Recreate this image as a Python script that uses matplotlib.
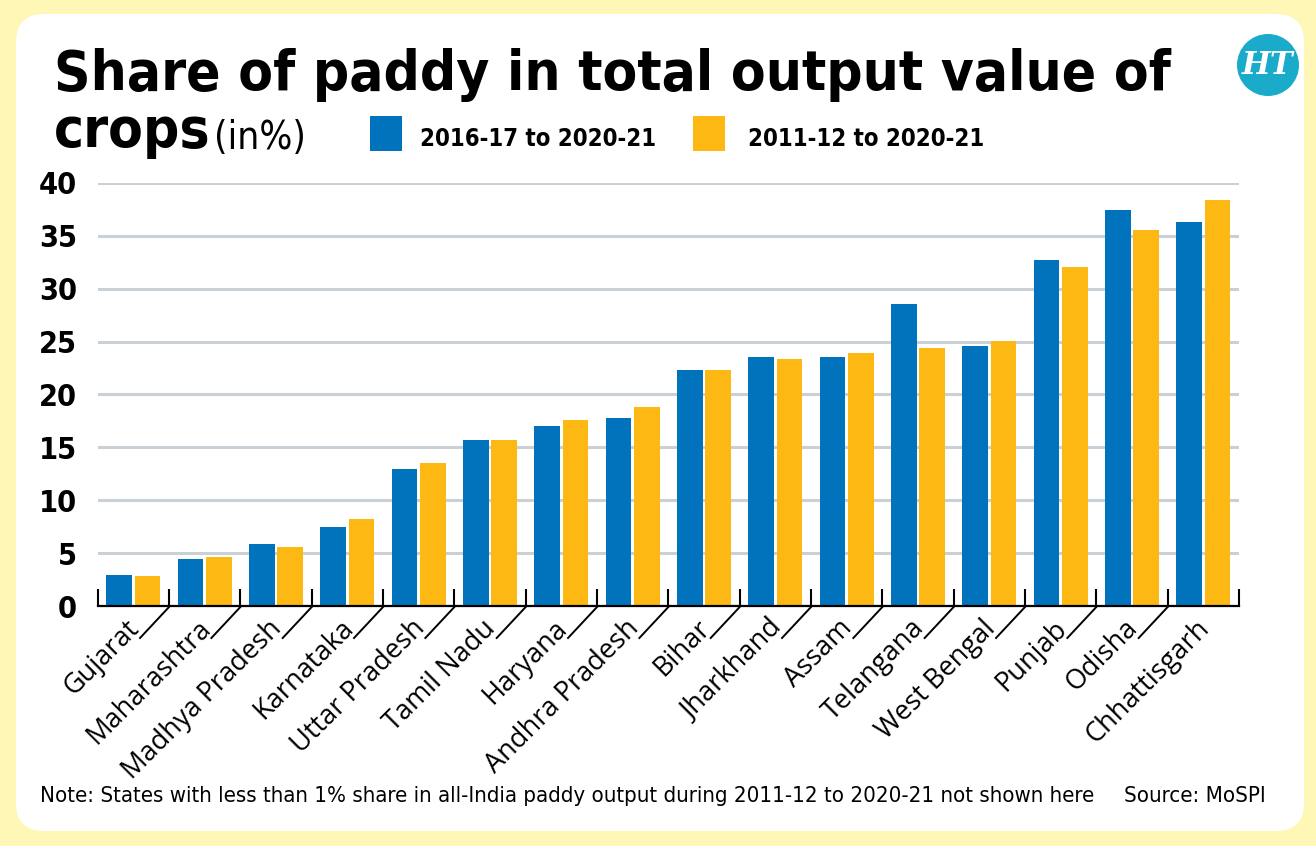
import numpy as np
import matplotlib
matplotlib.use("Agg")
import matplotlib.pyplot as plt
from matplotlib import font_manager
from matplotlib.patches import FancyBboxPatch, Rectangle, Circle
from matplotlib.lines import Line2D
from matplotlib.transforms import IdentityTransform, ScaledTranslation

states = ["Gujarat", "Maharashtra", "Madhya Pradesh", "Karnataka", "Uttar Pradesh",
          "Tamil Nadu", "Haryana", "Andhra Pradesh", "Bihar", "Jharkhand", "Assam",
          "Telangana", "West Bengal", "Punjab", "Odisha", "Chhattisgarh"]
share_2016_21 = [2.9, 4.4, 5.9, 7.5, 13.0, 15.7, 17.0, 17.8, 22.3, 23.5, 23.5,
                 28.6, 24.6, 32.7, 37.4, 36.3]
share_2011_21 = [2.8, 4.6, 5.6, 8.2, 13.5, 15.7, 17.6, 18.8, 22.3, 23.4, 23.9,
                 24.4, 25.1, 32.1, 35.6, 38.4]
yticks = [0, 5, 10, 15, 20, 25, 30, 35, 40]
legend_labels = ["2016-17 to 2020-21", "2011-12 to 2020-21"]

BLUE = "#0073BC"
YELLOW = "#FDB813"
BG = "#FEF7B6"
GRID = "#C9D1D7"

# narrow font: Liberation Sans Narrow or DejaVu Sans Condensed
fonts = font_manager.fontManager.ttflist
if any(f.name == "Liberation Sans Narrow" for f in fonts):
    NARROW = dict(family="Liberation Sans Narrow")
elif any(f.name == "DejaVu Sans" and f.stretch == "condensed" for f in fonts):
    NARROW = dict(family="DejaVu Sans", stretch="condensed")
else:
    NARROW = dict(family="Roboto")
REG = dict(family="Open Sans")

W, H = 1316, 846
fig = plt.figure(figsize=(W / 100, H / 100), dpi=100)
fig.patch.set_facecolor(BG)

# white card (pixel coords, origin bottom-left)
card = FancyBboxPatch((16, H - 831), 1288, 817, boxstyle="round,pad=0,rounding_size=28",
                      transform=IdentityTransform(), facecolor="white", edgecolor="none",
                      zorder=-5)
fig.add_artist(card)

def fx(x):
    return x / W

def fy(y):
    return 1 - y / H

renderer = fig.canvas.get_renderer()

def fit(t, width):
    w = t.get_window_extent(renderer).width
    t.set_fontsize(t.get_fontsize() * width / w)
    return t

# title
t1 = fig.text(fx(54), fy(90), "Share of paddy in total output value of", fontsize=50,
              fontweight="bold", va="baseline", **NARROW)
fit(t1, 1117)
t2 = fig.text(fx(54), fy(147), "crops", fontsize=t1.get_fontsize(), fontweight="bold",
              va="baseline", **NARROW)
t3 = fig.text(fx(214), fy(149), "(in%)", fontsize=30, va="baseline", **NARROW)
fit(t3, 92)

# legend
for x0, x1, col in [(370, 402, BLUE), (693, 725, YELLOW)]:
    fig.add_artist(Rectangle((x0, H - 151), x1 - x0, 35, transform=IdentityTransform(),
                             facecolor=col, edgecolor="none"))
l1 = fig.text(fx(420), fy(146), legend_labels[0], fontsize=20, fontweight="bold",
              va="baseline", **NARROW)
fit(l1, 236)
l2 = fig.text(fx(748), fy(146), legend_labels[1], fontsize=l1.get_fontsize(),
              fontweight="bold", va="baseline", **NARROW)

# HT logo
fig.add_artist(Circle((1268, H - 65), 31, transform=IdentityTransform(),
                      facecolor="#1AABCA", edgecolor="none"))
fig.text(fx(1268), fy(66), "HT", color="white", fontsize=22, fontweight="bold",
         fontstyle="italic", family="DejaVu Serif", ha="center", va="center")

# chart
left, right, base, top = 97.7, 1239, 606, 183
ax = fig.add_axes([fx(left), fy(base), (right - left) / W, (base - top) / H])
ax.set_facecolor("none")
x = np.arange(len(states))
ax.bar(x - 0.2, share_2016_21, 0.36, color=BLUE, zorder=2)
ax.bar(x + 0.2, share_2011_21, 0.36, color=YELLOW, zorder=2)
ax.set_xlim(-0.5, len(states) - 0.5)
ax.set_ylim(0, 40)
ax.set_yticks(yticks)
ax.yaxis.grid(True, color=GRID, lw=2.2)
ax.set_axisbelow(True)
for s in ["left", "right", "top"]:
    ax.spines[s].set_visible(False)
ax.spines["bottom"].set_linewidth(1.6)
ax.spines["bottom"].set_zorder(3)
ax.tick_params(axis="y", length=0, pad=15)
for lbl in ax.get_yticklabels():
    lbl.set_fontweight("bold")
    lbl.set_fontsize(22)
    lbl.set_family(NARROW["family"])
    if "stretch" in NARROW:
        lbl.set_stretch(NARROW["stretch"])

ax.set_xticks(x)
ax.set_xticklabels(states, rotation=45, ha="right", va="top", rotation_mode="anchor",
                   fontsize=19.5, **REG)
ax.tick_params(axis="x", which="major", length=0, pad=6)
shift = ScaledTranslation(-0.08, 0, fig.dpi_scale_trans)
for lbl in ax.get_xticklabels():
    lbl.set_transform(lbl.get_transform() + shift)
ax.set_xticks(np.arange(-0.5, len(states), 1), minor=True)
ax.tick_params(axis="x", which="minor", direction="in", length=12, width=1.5, color="black")

# slanted separators under the axis, drawn in pixel space
for b in np.arange(0.5, len(states) - 1, 1):
    px, py = ax.transData.transform((b, 0))
    fig.add_artist(Line2D([px, px - 29], [py - 1, py - 32], transform=IdentityTransform(),
                          color="black", lw=1.4))

# footer
n = fig.text(fx(40), fy(802), "Note: States with less than 1% share in all-India paddy output "
             "during 2011-12 to 2020-21 not shown here", fontsize=16, va="baseline", **NARROW)
fit(n, 1058)
s = fig.text(fx(1124), fy(802), "Source: MoSPI", fontsize=n.get_fontsize(), va="baseline",
             **NARROW)

fig.savefig("out.png", dpi=100, facecolor=BG)
